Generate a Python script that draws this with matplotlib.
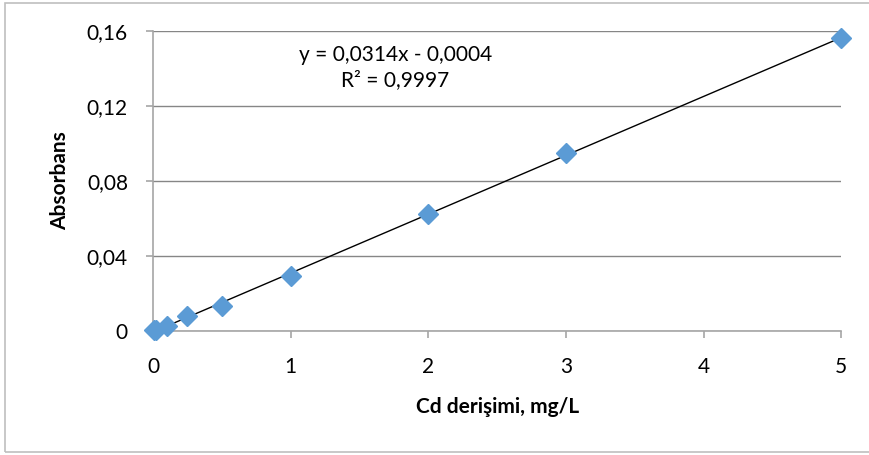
import numpy as np
import matplotlib.pyplot as plt
from matplotlib.patches import Rectangle
from matplotlib.ticker import FuncFormatter

plt.rcParams['font.family'] = ['Lato', 'DejaVu Sans']

# Cd concentration (mg/L) vs absorbance
conc = [0.01, 0.025, 0.1, 0.25, 0.5, 1, 2, 3, 5]
absorb = [0.0004, 0.0008, 0.0027, 0.0082, 0.0135, 0.0293, 0.0625, 0.0950, 0.1560]
eq_text = "y = 0,0314x - 0,0004\nR² = 0,9997"
xticks = [0, 1, 2, 3, 4, 5]
yticks = [0, 0.04, 0.08, 0.12, 0.16]

fig = plt.figure(figsize=(8.69, 4.55), dpi=100)
ax = fig.add_axes([0.176, 0.2725, 0.792, 0.6595])

# light frame round the chart area
fig.patches.append(Rectangle((5/869, 3/455), 1.0, 449/455, transform=fig.transFigure,
                             fill=False, edgecolor='#bfbfbf', linewidth=1.2))

slope, intercept = np.polyfit(conc, absorb, 1)
xl = np.array([min(conc), max(conc)])
ax.plot(xl, slope*xl + intercept, color='black', linewidth=1, zorder=2)
ax.plot(conc, absorb, linestyle='none', marker='D', markersize=10.5,
        color='#5B9BD5', markeredgecolor='#5B9BD5', zorder=3, clip_on=False)

ax.set_xlim(0, 5)
ax.set_ylim(0, 0.16)
ax.set_xticks(xticks)
ax.set_yticks(yticks)
ax.yaxis.set_major_formatter(FuncFormatter(lambda v, p: '0' if v == 0 else ('%.2f' % v).replace('.', ',')))
ax.grid(axis='y', color='#868686', linewidth=1)
ax.set_axisbelow(True)
for s in ['top', 'right']:
    ax.spines[s].set_visible(False)
for s in ['left', 'bottom']:
    ax.spines[s].set_color('#a6a6a6')
    ax.spines[s].set_linewidth(1.2)
ax.tick_params(axis='both', colors='#a6a6a6', labelcolor='black', labelsize=15, length=5, width=1.2)
ax.tick_params(axis='x', pad=14)
ax.tick_params(axis='y', pad=13)

ax.set_xlabel('Cd derişimi, mg/L', fontsize=15, fontweight='bold', labelpad=14)
ax.set_ylabel('Absorbans', fontsize=15, fontweight='bold', labelpad=12)

ax.text(1.76, 0.1405, eq_text, ha='center', va='center', fontsize=15, linespacing=1.3)

fig.savefig('out.png', dpi=100)
